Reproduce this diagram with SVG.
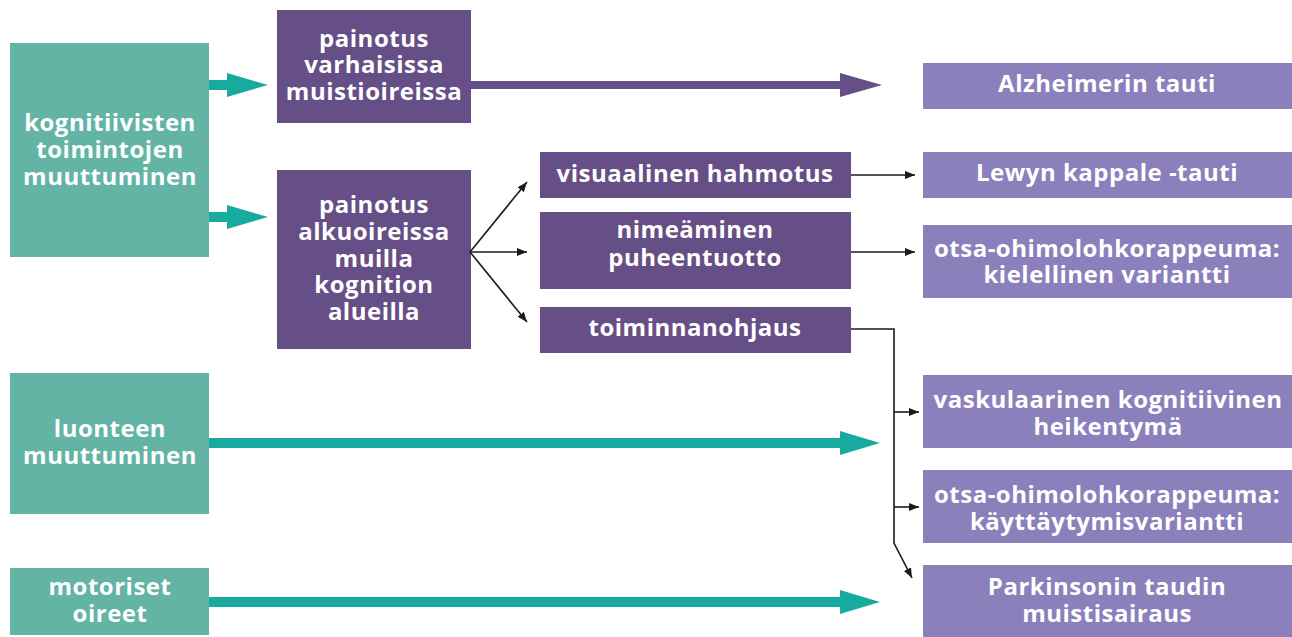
<svg xmlns="http://www.w3.org/2000/svg" width="1292" height="637" viewBox="0 0 1292 637">
<defs>
<style>
.teal{fill:#63b4a4}
.dark{fill:#664e86}
.light{fill:#8b80bc}
text{font-family:"Open Sans","Noto Sans","Liberation Sans",sans-serif;font-weight:bold;font-size:24px;letter-spacing:0.5px;fill:#ffffff;text-anchor:middle}
.thin{stroke:#1a1a1a;stroke-width:1.6;fill:none}
.tarrow{fill:#17aba0}
.parrow{fill:#664e86}
</style>
<marker id="ah" viewBox="0 0 10 10" refX="10" refY="5" markerWidth="10" markerHeight="10" markerUnits="userSpaceOnUse" orient="auto">
<path d="M0,1 L10,5 L0,9 Z" fill="#1a1a1a"/>
</marker>
</defs>
<rect width="1292" height="637" fill="#ffffff"/>

<g id="n-kognitiivisten">
<rect class="teal" x="10" y="43" width="199" height="214"/>
<text x="110" y="131">kognitiivisten</text>
<text x="110" y="158">toimintojen</text>
<text x="110" y="185">muuttuminen</text>
</g>
<g id="n-luonteen">
<rect class="teal" x="10" y="373" width="199" height="141"/>
<text x="110" y="437">luonteen</text>
<text x="110" y="464">muuttuminen</text>
</g>
<g id="n-motoriset">
<rect class="teal" x="10" y="568" width="199" height="67"/>
<text x="110" y="595">motoriset</text>
<text x="110" y="622">oireet</text>
</g>
<g id="n-varhaisissa">
<rect class="dark" x="277" y="10" width="194" height="113"/>
<text x="374" y="47">painotus</text>
<text x="374" y="73">varhaisissa</text>
<text x="374" y="100">muistioireissa</text>
</g>
<g id="n-alkuoireissa">
<rect class="dark" x="277" y="170" width="194" height="179"/>
<text x="374" y="213">painotus</text>
<text x="374" y="240">alkuoireissa</text>
<text x="374" y="267">muilla</text>
<text x="374" y="293">kognition</text>
<text x="374" y="320">alueilla</text>
</g>
<g id="n-visuaalinen">
<rect class="dark" x="540" y="152" width="311" height="46"/>
<text x="695" y="182">visuaalinen hahmotus</text>
</g>
<g id="n-nimeaminen">
<rect class="dark" x="540" y="212" width="311" height="77"/>
<text x="695" y="238">nimeäminen</text>
<text x="695" y="266">puheentuotto</text>
</g>
<g id="n-toiminnanohjaus">
<rect class="dark" x="540" y="307" width="311" height="46"/>
<text x="695" y="336">toiminnanohjaus</text>
</g>
<g id="n-alzheimer">
<rect class="light" x="923" y="63" width="369" height="46"/>
<text x="1107" y="92">Alzheimerin tauti</text>
</g>
<g id="n-lewy">
<rect class="light" x="923" y="152" width="369" height="46"/>
<text x="1107" y="181">Lewyn kappale -tauti</text>
</g>
<g id="n-kielellinen">
<rect class="light" x="923" y="225" width="369" height="73"/>
<text x="1107" y="257">otsa-ohimolohkorappeuma:</text>
<text x="1107" y="283">kielellinen variantti</text>
</g>
<g id="n-vaskulaarinen">
<rect class="light" x="923" y="375" width="369" height="73"/>
<text x="1108" y="408">vaskulaarinen kognitiivinen</text>
<text x="1108" y="435">heikentymä</text>
</g>
<g id="n-kayttaytymis">
<rect class="light" x="923" y="470" width="369" height="73"/>
<text x="1107" y="503">otsa-ohimolohkorappeuma:</text>
<text x="1107" y="530">käyttäytymisvariantti</text>
</g>
<g id="n-parkinson">
<rect class="light" x="923" y="565" width="369" height="72"/>
<text x="1107" y="595">Parkinsonin taudin</text>
<text x="1107" y="622">muistisairaus</text>
</g>

<g id="connectors">
<polygon class="tarrow" points="209,80 227,80 227,73 268,85 227,97 227,90 209,90"/>
<polygon class="tarrow" points="209,212 227,212 227,205 268,217 227,229 227,222 209,222"/>
<polygon class="tarrow" points="209,438 840,438 840,431 880,443 840,455 840,448 209,448"/>
<polygon class="tarrow" points="209,597 840,597 840,590 880,602 840,614 840,607 209,607"/>
<polygon class="parrow" points="471,81 840,81 840,73 882,85 840,97 840,89 471,89"/>
<line class="thin" x1="470" y1="252" x2="527" y2="182" marker-end="url(#ah)"/>
<line class="thin" x1="470" y1="252" x2="527" y2="252" marker-end="url(#ah)"/>
<line class="thin" x1="470" y1="252" x2="527" y2="322" marker-end="url(#ah)"/>
<line class="thin" x1="851" y1="175" x2="915" y2="175" marker-end="url(#ah)"/>
<line class="thin" x1="851" y1="252" x2="915" y2="252" marker-end="url(#ah)"/>
<polyline class="thin" points="851,329 894,329 894,543 912,578" marker-end="url(#ah)"/>
<line class="thin" x1="894" y1="412" x2="919" y2="412" marker-end="url(#ah)"/>
<line class="thin" x1="894" y1="507" x2="919" y2="507" marker-end="url(#ah)"/>
</g>
</svg>
